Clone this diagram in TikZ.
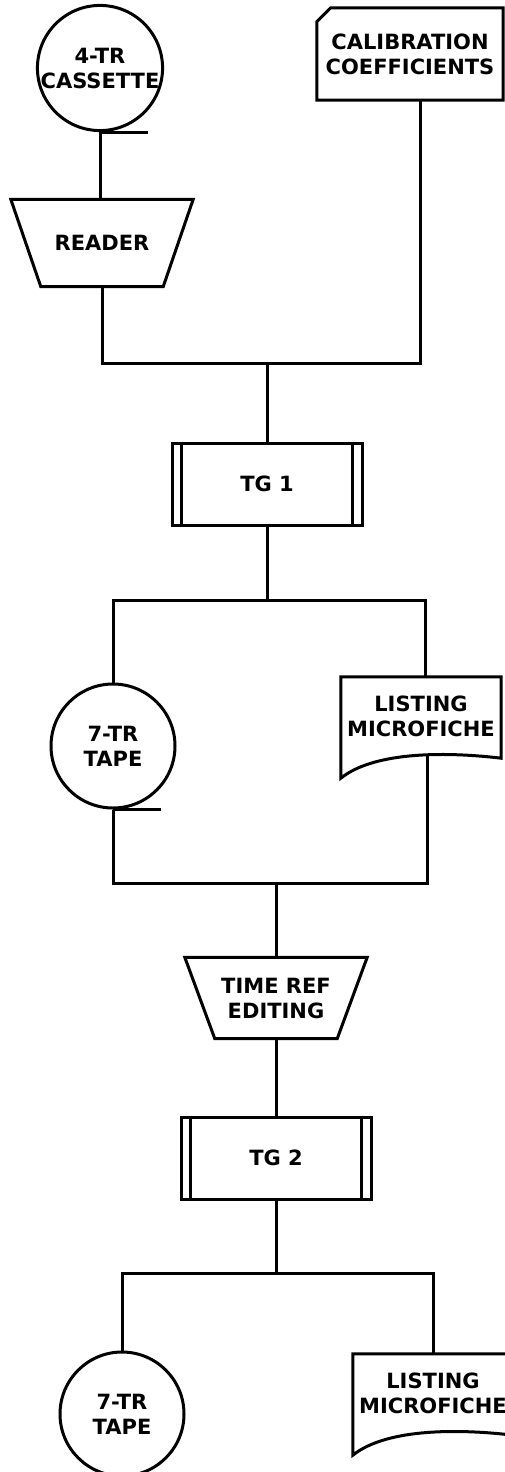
\documentclass[tikz,border=0pt]{standalone}
\usepackage{fontspec}
\setsansfont{DejaVu Sans}
\usetikzlibrary{positioning}
\newcommand{\flowfont}{\sffamily\bfseries\fontsize{21}{25}\selectfont}
\tikzset{
  link/.style={line width=3pt},
  tape/.style={draw, link, circle, minimum size=124pt, inner sep=0pt, align=center, font=\flowfont},
  manual/.style={rectangle, minimum width=182pt, minimum height=#1, inner sep=0pt, align=center, font=\flowfont},
  manual/.default={84pt},
  card/.style={rectangle, minimum width=186pt, minimum height=92pt, inner sep=0pt, align=center, font=\flowfont},
  proc/.style={draw, link, rectangle, minimum width=190pt, minimum height=82pt, inner sep=0pt, align=center, font=\flowfont},
  doc/.style={rectangle, minimum width=160pt, minimum height=78pt, inner sep=0pt, align=center, font=\flowfont}
}
\begin{document}
\begin{tikzpicture}[x=1pt, y=-1pt]
  \useasboundingbox (0,0) rectangle (505,1472);
  % inputs
  \node[tape, minimum size=120pt] (cas) at (100,68) {4-TR\\CASSETTE};
  \node[card] (coef) at (410,54) {CALIBRATION\\COEFFICIENTS};
  \node[manual=87pt] (reader) at (102,243) {READER};
  \node[proc] (tg1) at (267,484) {TG 1};
  % first output
  \node[tape] (tape1) at (113,746) {7-TR\\TAPE};
  \node[doc] (list1) at (421,716) {LISTING\\MICROFICHE};
  \node[manual=81pt] (edit) at (276,998) {TIME REF\\EDITING};
  \node[proc] (tg2) at (276,1158) {TG 2};
  % second output
  \node[tape] (tape2) at (122,1414) {7-TR\\TAPE};
  \node[doc] (list2) at (433,1393) {LISTING\\MICROFICHE};

  % symbol details
  \foreach \n in {cas,tape1,tape2}
    \draw[link] (\n.south) -- ++(48,0);
  \draw[link] ([yshift=-14pt]coef.north west) -- ([xshift=14pt]coef.north west)
              -- (coef.north east) -- (coef.south east) -- (coef.south west) -- cycle;
  \foreach \n in {reader,edit}
    \draw[link] (\n.north west) -- (\n.north east) -- ([xshift=-30pt]\n.south east)
                -- ([xshift=30pt]\n.south west) -- cycle;
  \foreach \n in {tg1,tg2}
    \draw[link] ([xshift=11pt]\n.north west) -- ([xshift=11pt]\n.south west)
                ([xshift=-11pt]\n.north east) -- ([xshift=-11pt]\n.south east);
  \foreach \n in {list1,list2}
    \draw[link] (\n.north west) -- (\n.north east) -- ([yshift=-3pt]\n.south east)
      .. controls ([xshift=-50pt,yshift=3pt]\n.south east) and ([xshift=35pt,yshift=5pt]\n.south west)
      .. ([yshift=-23pt]\n.south west) -- cycle;

  % connectors
  \coordinate (j1) at (267,363);
  \coordinate (j2) at (267,600);
  \coordinate (j3) at (276,883);
  \coordinate (j4) at (276,1273);
  \draw[link] (cas.south) -- (cas.south |- reader.north);
  \draw[link] (reader.south) |- (j1) -| ([xshift=10pt]coef.south);
  \draw[link] (j1) -- (tg1.north);
  \draw[link] (tg1.south) -- (j2);
  \draw[link] (tape1.north) |- (j2) -| ([xshift=4pt]list1.north);
  \draw[link] (tape1.south) |- (j3) -| ([xshift=6pt]list1.south);
  \draw[link] (j3) -- (edit.north);
  \draw[link] (edit.south) -- (tg2.north);
  \draw[link] (tg2.south) -- (j4);
  \draw[link] (tape2.north) |- (j4) -| (list2.north);
\end{tikzpicture}
\end{document}
